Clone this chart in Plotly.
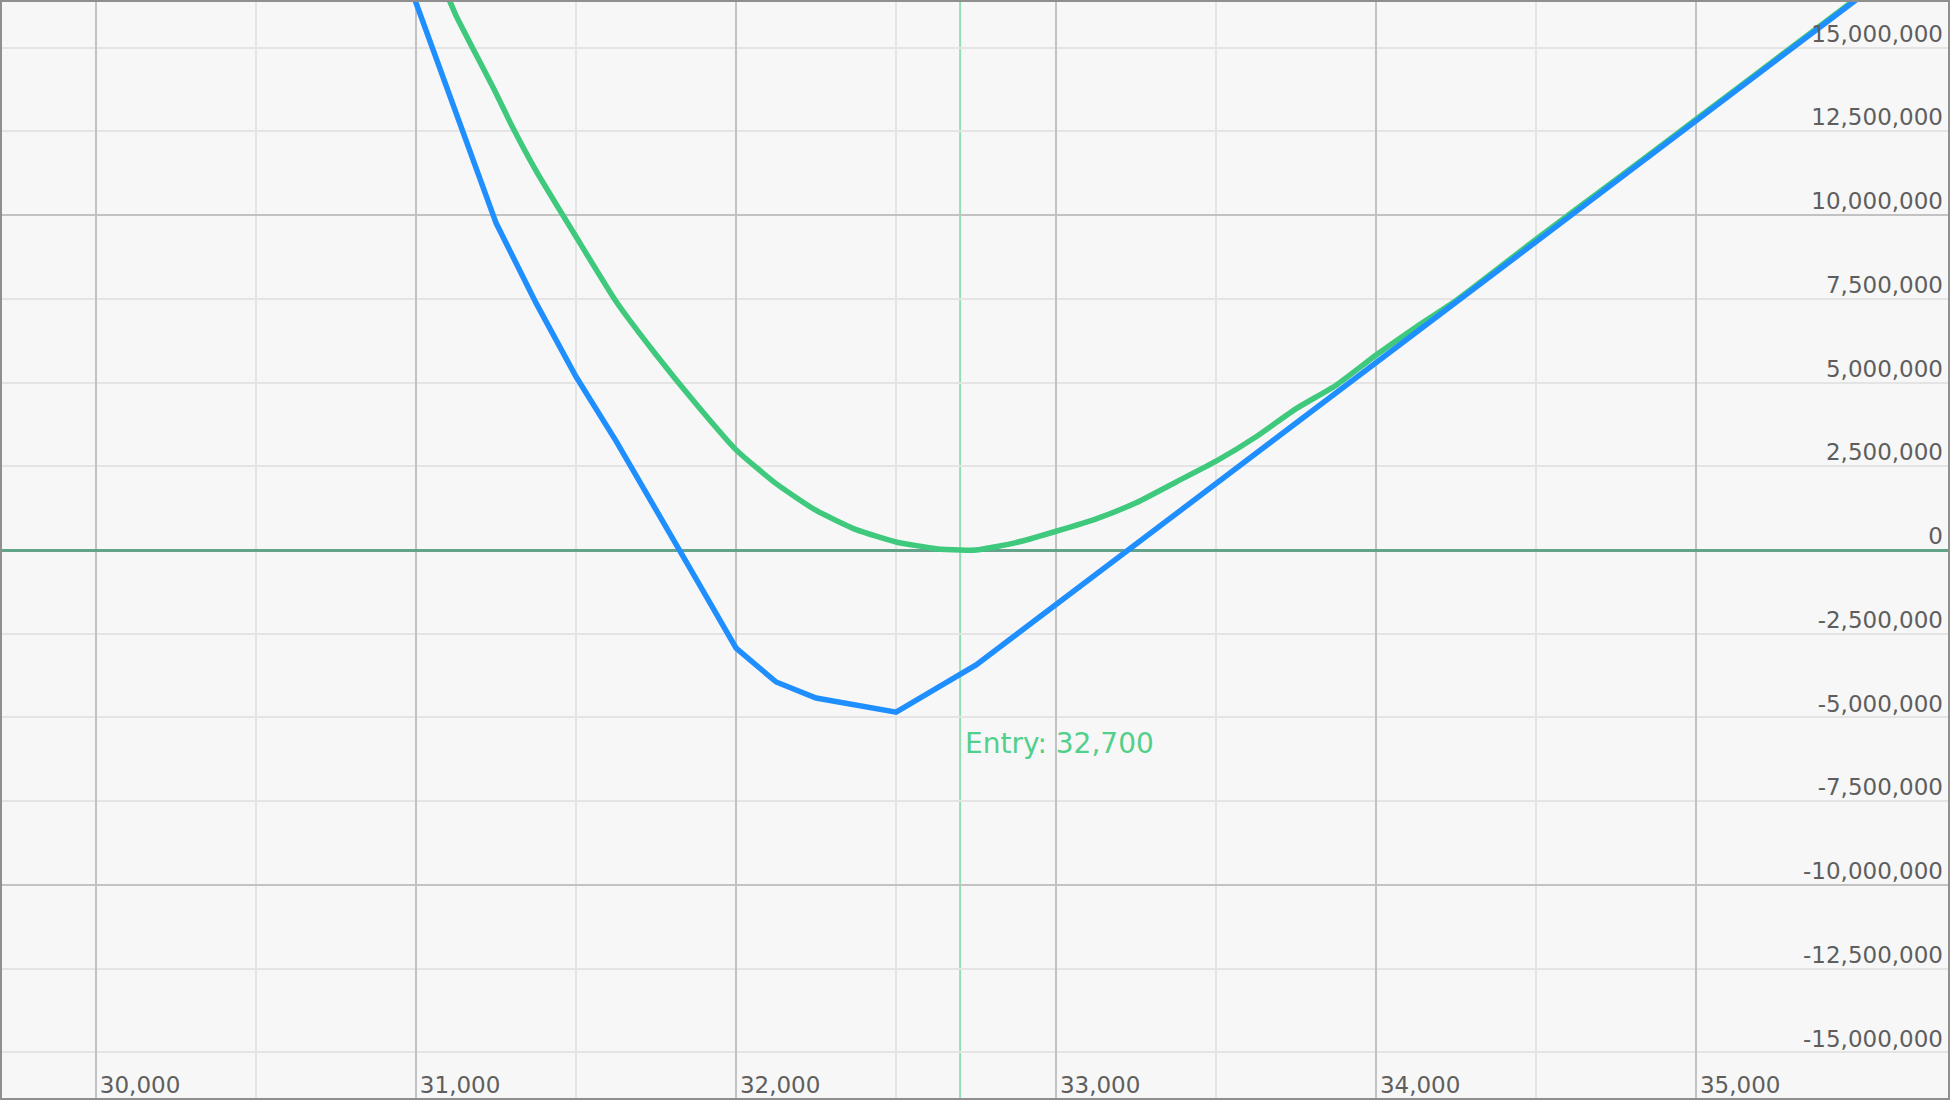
import plotly.graph_objects as go

# ---- data (price -> P&L) ----
entry_price = 32700

expiry_x = [30750, 31000, 31250, 31375, 31500, 31625, 31750, 31875, 32000,
            32125, 32250, 32500, 32750, 35500, 35800]
expiry_y = [22.9e6, 16.35e6, 9.76e6, 7.37e6, 5.17e6, 3.25e6, 1.23e6, -0.86e6, -2.93e6,
            -3.94e6, -4.42e6, -4.84e6, -3.43e6, 16.42e6, 18.59e6]

today_x = [31000, 31100, 31125, 31250, 31300, 31375, 31500, 31625, 31750, 31875,
           32000, 32125, 32250, 32375, 32500, 32625, 32700, 32750, 32875, 33000,
           33125, 33250, 33375, 33500, 33625, 33750, 33875, 34000, 34125, 34250,
           34500, 34750, 35000, 35250, 35500, 35800]
today_y = [18.6e6, 16.5e6, 15.95e6, 13.63e6, 12.65e6, 11.32e6, 9.35e6, 7.42e6, 5.83e6, 4.36e6,
           2.99e6, 1.98e6, 1.18e6, 0.61e6, 0.24e6, 0.04e6, 0.0, 0.0, 0.22e6, 0.56e6,
           0.93e6, 1.41e6, 2.03e6, 2.65e6, 3.38e6, 4.22e6, 4.92e6, 5.82e6, 6.66e6, 7.45e6,
           9.28e6, 11.06e6, 12.86e6, 14.66e6, 16.46e6, 18.62e6]

y_tick_vals = [15e6, 12.5e6, 10e6, 7.5e6, 5e6, 2.5e6, 0, -2.5e6, -5e6, -7.5e6,
               -10e6, -12.5e6, -15e6]
y_tick_text = ["15,000,000", "12,500,000", "10,000,000", "7,500,000", "5,000,000",
               "2,500,000", "0", "-2,500,000", "-5,000,000", "-7,500,000",
               "-10,000,000", "-12,500,000", "-15,000,000"]
x_tick_vals = [30000, 31000, 32000, 33000, 34000, 35000]
x_tick_text = ["30,000", "31,000", "32,000", "33,000", "34,000", "35,000"]

FONT = "DejaVu Sans"
LABEL_COLOR = "#5e5e5e"
MAJOR_GRID = "#c2c2c2"
MINOR_GRID = "#e4e4e4"

fig = go.Figure()

fig.add_trace(go.Scatter(x=today_x, y=today_y, mode="lines",
                         line=dict(color="#3ec97c", width=5.5, shape="spline", smoothing=0.5),
                         yaxis="y", hoverinfo="skip", showlegend=False))
fig.add_trace(go.Scatter(x=expiry_x, y=expiry_y, mode="lines",
                         line=dict(color="#1f8fff", width=5.5),
                         yaxis="y2", hoverinfo="skip", showlegend=False))

fig.add_shape(type="line", xref="x", yref="paper", x0=entry_price, x1=entry_price,
              y0=0, y1=1, line=dict(color="#93dfb3", width=2), layer="between")

fig.add_annotation(x=entry_price, y=-5.79e6, xref="x", yref="y",
                   text=f"Entry: {entry_price:,}", showarrow=False,
                   xanchor="left", yanchor="middle", xshift=3,
                   font=dict(family=FONT, size=28, color="#52cf8a"))

fig.update_layout(
    width=1950, height=1100,
    margin=dict(l=2, r=2, t=2, b=2, pad=0),
    paper_bgcolor="#8f8f8f",
    plot_bgcolor="#f7f7f7",
    showlegend=False,
    font=dict(family=FONT, size=23, color=LABEL_COLOR),
    xaxis=dict(
        range=[29706, 35787],
        tickvals=x_tick_vals, ticktext=x_tick_text,
        showgrid=True, gridcolor=MAJOR_GRID, gridwidth=2,
        minor=dict(dtick=500, tick0=0, showgrid=True, gridcolor=MINOR_GRID, gridwidth=2),
        zeroline=False, showline=False, ticks="",
        ticklabelposition="inside", ticklabelshift=44, ticklabelstandoff=-3,
        tickfont=dict(family=FONT, size=23, color=LABEL_COLOR),
        automargin=False, fixedrange=True,
    ),
    yaxis=dict(
        range=[-16.36e6, 16.36e6],
        tick0=0, dtick=10e6,
        showgrid=True, gridcolor=MAJOR_GRID, gridwidth=2,
        minor=dict(dtick=2.5e6, tick0=0, showgrid=True, gridcolor=MINOR_GRID, gridwidth=2),
        zeroline=True, zerolinecolor="#62a38a", zerolinewidth=3,
        showticklabels=False, ticks="", showline=False,
        automargin=False, fixedrange=True,
    ),
    yaxis2=dict(
        overlaying="y", matches="y", side="right", anchor="x",
        tickvals=y_tick_vals, ticktext=y_tick_text,
        showgrid=False, zeroline=False, showline=False, ticks="",
        ticklabelposition="inside", ticklabelshift=-14, ticklabelstandoff=2,
        tickfont=dict(family=FONT, size=23, color=LABEL_COLOR),
        automargin=False, fixedrange=True,
    ),
)

fig.write_html("out.html", config={"displayModeBar": False},
               post_script="document.body.style.margin='0';document.body.style.overflow='hidden';")
